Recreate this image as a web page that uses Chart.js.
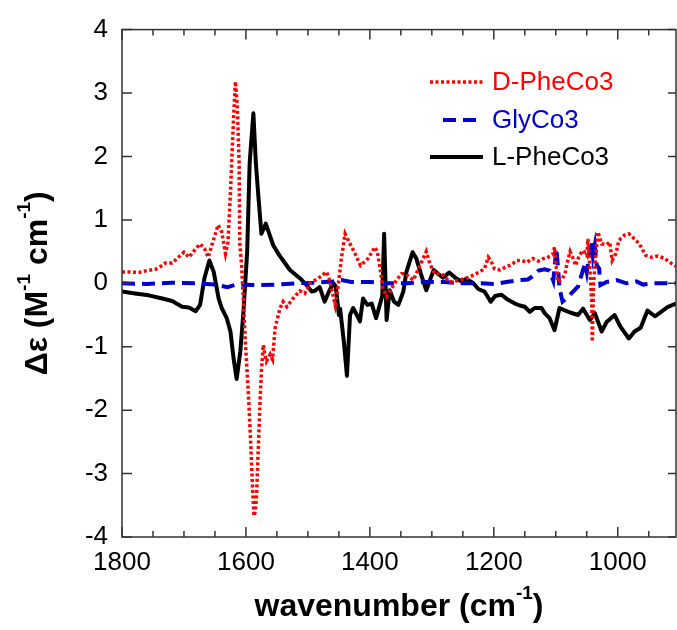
<!DOCTYPE html>
<html>
<head>
<meta charset="utf-8">
<script src="https://cdn.jsdelivr.net/npm/chart.js@4.4.1/dist/chart.umd.min.js"></script>
<style>
  html, body { margin: 0; padding: 0; background: #fff; }
  #wrap { width: 677px; height: 630px; position: relative; }
</style>
</head>
<body>
<div id="wrap"><canvas id="myChart"></canvas></div>
<script>
// series names
const seriesNames = ['D-PheCo3', 'GlyCo3', 'L-PheCo3'];

// D-PheCo3 (red dotted)
const dWave = [1800, 1790, 1773, 1760, 1746, 1735, 1730, 1719, 1710, 1700, 1692, 1683, 1674, 1667, 1661, 1655, 1645, 1639, 1633, 1629,
  1625, 1623, 1620, 1617, 1614, 1611, 1610, 1607, 1604, 1601, 1596, 1592, 1589, 1587, 1585, 1583, 1580, 1577, 1575, 1572,
  1569, 1567, 1561, 1557, 1553, 1545, 1540, 1534, 1524, 1513, 1505, 1497, 1483, 1470, 1465, 1456, 1451, 1446, 1440, 1435,
  1424, 1415, 1403, 1392, 1388, 1384, 1379, 1373, 1365, 1357, 1349, 1343, 1330, 1319, 1309, 1303, 1295, 1284, 1271, 1255,
  1239, 1223, 1215, 1209, 1204, 1199, 1190, 1180, 1172, 1163, 1155, 1147, 1137, 1128, 1120, 1115, 1105, 1102, 1099, 1096,
  1091, 1085, 1082, 1077, 1072, 1068, 1062, 1056, 1050, 1048, 1045, 1042, 1041, 1039, 1035, 1032, 1026, 1018, 1013, 1009,
  1003, 998, 989, 982, 973, 965, 955, 946, 935, 924, 913, 906];
const dVal = [0.18, 0.18, 0.17, 0.20, 0.22, 0.28, 0.32, 0.32, 0.40, 0.49, 0.41, 0.52, 0.62, 0.55, 0.41, 0.60, 0.92, 0.81, 0.47, 0.65,
  1.43, 1.9, 2.6, 3.18, 2.8, 1.9, 0.65, 0.28, -0.3, -0.92, -1.75, -2.59, -3.3, -3.67, -3.6, -3.37, -2.59, -1.8, -1.39, -0.97,
  -1.15, -1.23, -1.12, -1.2, -0.71, -0.39, -0.29, -0.37, -0.24, -0.12, -0.16, 0.0, 0.08, 0.18, 0.05, -0.34, -0.03, 0.39, 0.78, 0.68,
  0.47, 0.28, 0.39, 0.57, 0.5, 0.26, -0.08, -0.21, -0.08, 0.05, 0.15, 0.15, 0.05, 0.28, 0.5, 0.3, 0.15, 0.15, 0.02, 0.05,
  0.1, 0.18, 0.23, 0.41, 0.34, 0.23, 0.21, 0.26, 0.29, 0.36, 0.36, 0.33, 0.39, 0.35, 0.39, 0.40, 0.45, 0.57, 0.23, 0.02,
  0.05, 0.15, 0.31, 0.5, 0.39, 0.28, 0.44, 0.52, 0.44, 0.7, 0.23, -0.29, -0.92, 0.0, 0.49, 0.81, 0.62, 0.61, 0.65, 0.36,
  0.47, 0.68, 0.76, 0.78, 0.7, 0.62, 0.44, 0.41, 0.43, 0.39, 0.31, 0.27];

// GlyCo3 (blue dashed)
const gWave = [1800, 1760, 1720, 1680, 1650, 1630, 1615, 1580, 1550, 1520, 1490, 1460, 1446, 1430, 1400, 1370, 1340, 1310, 1280, 1250,
  1220, 1199, 1180, 1160, 1145, 1135, 1128, 1118, 1110, 1104, 1099, 1096, 1094, 1089, 1083, 1072, 1064, 1053, 1050, 1048,
  1042, 1040, 1037, 1034, 1030, 1028, 1018, 1002, 986, 970, 959, 943, 922, 906];
const gVal = [0.0, -0.01, 0.01, 0.0, -0.02, -0.06, -0.02, -0.03, -0.02, 0.0, 0.01, 0.03, 0.05, 0.02, 0.02, 0.0, 0.0, 0.02, 0.02, 0.0,
  0.0, -0.01, 0.02, 0.05, 0.06, 0.13, 0.2, 0.22, 0.2, 0.04, 0.55, 0.2, -0.08, -0.29, -0.24, -0.13, -0.05, 0.31, 0.17, 0.31,
  0.68, 0.44, 0.6, 0.29, 0.23, -0.03, 0.02, 0.05, 0.0, 0.03, -0.02, 0.0, 0.0, 0.0];

// L-PheCo3 (black solid)
const lWave = [1800, 1779, 1757, 1735, 1719, 1703, 1692, 1681, 1674, 1667, 1659, 1652, 1644, 1639, 1631, 1625, 1620, 1615, 1609, 1604,
  1598, 1594, 1588, 1584, 1580, 1575, 1568, 1563, 1556, 1546, 1540, 1529, 1513, 1502, 1494, 1489, 1481, 1473, 1466, 1459,
  1455, 1450, 1448, 1442, 1437, 1432, 1427, 1421, 1416, 1411, 1404, 1397, 1390, 1384, 1380, 1377, 1373, 1368, 1361, 1354,
  1346, 1341, 1331, 1325, 1317, 1309, 1303, 1297, 1290, 1282, 1272, 1260, 1252, 1244, 1233, 1225, 1215, 1205, 1198, 1188,
  1177, 1166, 1158, 1150, 1142, 1134, 1123, 1118, 1110, 1102, 1094, 1077, 1064, 1056, 1045, 1037, 1026, 1018, 1005, 996,
  982, 973, 963, 952, 940, 930, 919, 906];
const lVal = [-0.13, -0.16, -0.19, -0.24, -0.28, -0.37, -0.38, -0.44, -0.34, 0.08, 0.36, 0.18, -0.24, -0.39, -0.55, -0.76, -1.18, -1.51, -1.07, -0.45,
  0.5, 1.9, 2.68, 1.9, 1.38, 0.78, 0.94, 0.8, 0.6, 0.44, 0.36, 0.21, 0.08, -0.03, -0.13, -0.12, -0.06, -0.29, -0.13, 0.0,
  -0.05, -0.5, -0.4, -0.92, -1.46, -0.5, -0.39, -0.5, -0.6, -0.24, -0.34, -0.32, -0.55, -0.34, -0.2, 0.78, -0.58, -0.11, -0.29, -0.34,
  -0.13, 0.18, 0.49, 0.39, 0.13, -0.11, 0.05, 0.21, 0.15, 0.09, 0.17, 0.07, 0.03, 0.07, 0.0, -0.09, -0.13, -0.29, -0.2, -0.18,
  -0.26, -0.32, -0.35, -0.37, -0.45, -0.39, -0.39, -0.47, -0.55, -0.74, -0.39, -0.46, -0.5, -0.4, -0.58, -0.47, -0.76, -0.61, -0.5, -0.68,
  -0.87, -0.76, -0.7, -0.43, -0.52, -0.45, -0.37, -0.32];

// axis ticks
const xLabelTicks = [1800, 1600, 1400, 1200, 1000];
const xMinorStep = 50;
const yTicks = [-4, -3, -2, -1, 0, 1, 2, 3, 4];

function toPoints(xs, ys) {
    return xs.map((x, i) => ({ x: x, y: ys[i] }));
}

const FONT = "'Liberation Sans', Arial, sans-serif";

// draws a text with superscript pieces, centred on (cx, cy)
function drawRich(ctx, parts, cx, cy, size) {
    let total = 0;
    parts.forEach(p => {
        ctx.font = 'bold ' + (p.sup ? Math.round(size * 0.6) : size) + 'px ' + FONT;
        p.w = ctx.measureText(p.t).width;
        total += p.w;
    });
    let x = cx - total / 2;
    ctx.textBaseline = 'middle';
    ctx.textAlign = 'left';
    parts.forEach(p => {
        ctx.font = 'bold ' + (p.sup ? Math.round(size * 0.6) : size) + 'px ' + FONT;
        ctx.fillText(p.t, x, p.sup ? cy - size * 0.42 : cy);
        x += p.w;
    });
}

// frame with inward ticks, axis titles and legend
const framePlugin = {
    id: 'frame',
    afterDraw(chart) {
        const ctx = chart.ctx;
        const a = chart.chartArea;
        const xs = chart.scales.x;
        const ys = chart.scales.y;
        ctx.save();
        ctx.strokeStyle = '#333';
        ctx.lineWidth = 1.5;
        ctx.strokeRect(a.left, a.top, a.right - a.left, a.bottom - a.top);

        ctx.beginPath();
        for (let v = 1800; v >= xs.min; v -= xMinorStep) {
            const px = xs.getPixelForValue(v);
            const len = xLabelTicks.includes(v) ? 10 : 6;
            ctx.moveTo(px, a.bottom);
            ctx.lineTo(px, a.bottom - len);
            ctx.moveTo(px, a.top);
            ctx.lineTo(px, a.top + len);
        }
        yTicks.forEach(v => {
            const py = ys.getPixelForValue(v);
            ctx.moveTo(a.left, py);
            ctx.lineTo(a.left + 10, py);
            ctx.moveTo(a.right, py);
            ctx.lineTo(a.right - 8, py);
        });
        ctx.stroke();

        // axis titles
        ctx.fillStyle = '#000';
        drawRich(ctx, [{ t: 'wavenumber (cm' }, { t: '-1', sup: true }, { t: ')' }], (a.left + a.right) / 2, 607, 32);
        ctx.save();
        ctx.translate(38, (a.top + a.bottom) / 2);
        ctx.rotate(-Math.PI / 2);
        drawRich(ctx, [{ t: 'Δε (M' }, { t: '-1', sup: true }, { t: ' cm' }, { t: '-1', sup: true }, { t: ')' }], 0, 0, 32);
        ctx.restore();

        // legend
        const rows = [82, 120, 157];
        chart.data.datasets.forEach((ds, i) => {
            const y = rows[i];
            ctx.beginPath();
            ctx.strokeStyle = ds.borderColor;
            ctx.lineWidth = ds.borderWidth;
            ctx.setLineDash(ds.borderDash || []);
            ctx.moveTo(i === 1 ? 443 : 430, y);
            ctx.lineTo(483, y);
            ctx.stroke();
            ctx.setLineDash([]);
            ctx.fillStyle = ds.borderColor;
            ctx.font = '26px ' + FONT;
            ctx.textAlign = 'left';
            ctx.textBaseline = 'middle';
            ctx.fillText(ds.label, 492, y + 1);
        });
        ctx.restore();
    }
};

const ctx = document.getElementById('myChart').getContext('2d');
window.myChart = new Chart(ctx, {
    type: 'line',
    data: {
        datasets: [{
            label: seriesNames[0],
            data: toPoints(dWave, dVal),
            borderColor: '#ff0000',
            borderWidth: 3.5,
            borderDash: [3, 2.5],
            pointRadius: 0,
            tension: 0
        }, {
            label: seriesNames[1],
            data: toPoints(gWave, gVal),
            borderColor: '#0000cc',
            borderWidth: 4,
            borderDash: [13, 7],
            pointRadius: 0,
            tension: 0
        }, {
            label: seriesNames[2],
            data: toPoints(lWave, lVal),
            borderColor: '#000000',
            borderWidth: 4,
            borderJoinStyle: 'round',
            pointRadius: 0,
            tension: 0
        }]
    },
    options: {
        responsive: true,
        maintainAspectRatio: false,
        animation: false,
        layout: {
            padding: { left: 0, right: 1, top: 26, bottom: 0 }
        },
        plugins: {
            legend: { display: false },
            tooltip: { enabled: false }
        },
        scales: {
            x: {
                type: 'linear',
                reverse: true,
                min: 906,
                max: 1800,
                grid: { display: false, drawTicks: false },
                border: { display: false },
                ticks: {
                    autoSkip: false,
                    includeBounds: false,
                    stepSize: 200,
                    maxRotation: 0,
                    padding: 10,
                    color: '#000',
                    font: { family: FONT, size: 26 },
                    callback: v => xLabelTicks.includes(v) ? String(v) : null
                },
                afterFit: s => { s.height = 93; }
            },
            y: {
                min: -4,
                max: 4,
                grid: { display: false, drawTicks: false },
                border: { display: false },
                ticks: {
                    stepSize: 1,
                    padding: 14,
                    color: '#000',
                    font: { family: FONT, size: 26 }
                },
                afterFit: s => { s.width = 122; }
            }
        }
    },
    plugins: [framePlugin]
});
</script>
</body>
</html>
